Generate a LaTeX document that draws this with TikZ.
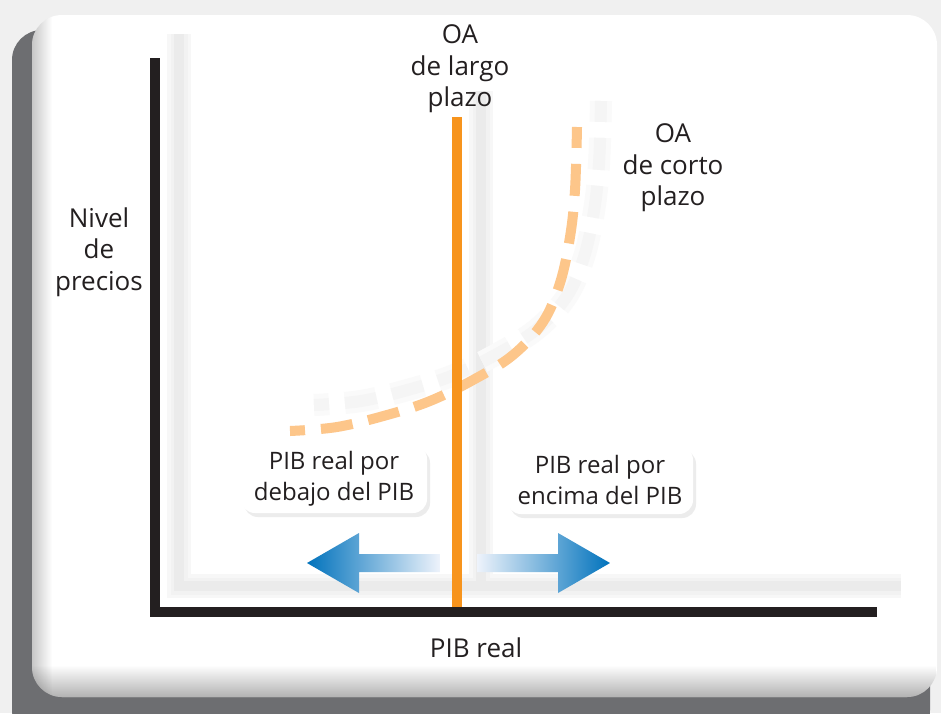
\documentclass[tikz,border=0pt]{standalone}
\usepackage{fontspec}
\setmainfont{Open Sans}
\usetikzlibrary{shadows,fadings}
\definecolor{ink}{HTML}{231F20}
\definecolor{oaorange}{HTML}{F7941D}
\definecolor{oalight}{HTML}{FDC68A}
\definecolor{arrowblue}{HTML}{0072BC}
\definecolor{arrowmid}{HTML}{5B9BD5}
\definecolor{arrowpale}{HTML}{EEF3FB}
\definecolor{panelshadow}{HTML}{6D6E71}
\definecolor{backgray}{HTML}{F0F0F0}

\newcommand{\sracurve}{plot[smooth, tension=0.6] coordinates {(290, 431) (337, 427) (387, 415) (430, 401) (473, 380) (513, 355) (543, 322) (560, 283) (570, 237) (575, 190) (577, 127)}}

\begin{document}
\begin{tikzpicture}[
        x = 1pt, y = -1pt,
        line join=round,
        axis/.style = {line width=10pt, ink, line join=miter},
        lronly/.style = {line width=10pt, oaorange},
        sronly/.style = {line width=10pt, oalight, dash pattern=on 32pt off 16pt, dash phase=17pt},
        label/.style = {font=\fontsize{26}{31.5}\selectfont, text=ink, align=center, inner sep=0pt},
        gdpbox/.style = {label, font=\fontsize{24}{31.5}\selectfont, fill=white, rounded corners=14pt,
            minimum width=186pt, minimum height=68pt,
            drop shadow={shadow xshift=3pt, shadow yshift=-4pt, opacity=.15}}
    ]
        \useasboundingbox (0, 0) rectangle (941, 713);

        % panel
        \fill[backgray] (0, 0) rectangle (941, 713);
        \fill[panelshadow, rounded corners=30pt] (12, 30) rectangle (930, 740);
        \fill[white, rounded corners=30pt] (32, 15) rectangle (937, 697);
        \begin{scope}
            \clip[rounded corners=30pt] (32, 15) rectangle (937, 697);
            \fill[black, opacity=.3, path fading=north] (32, 665) rectangle (937, 697);
            \fill[black, opacity=.22, path fading=east] (32, 15) rectangle (52, 697);
        \end{scope}

        % ghost shadows
        \begin{scope}[shift={(24, -26)}]
            \foreach \w/\c in {24/3, 17/5, 10/8} {
                \draw[line width=\w pt, black!\c, line join=miter] (155, 60) -- (155, 612) -- (877, 612);
                \draw[line width=\w pt, black!\c] (457, 117) -- (457, 608);
            }
            \foreach \w/\c in {22/2, 12/4} {
                \draw[line width=\w pt, black!\c, dash pattern=on 32pt off 16pt, dash phase=17pt] \sracurve;
            }
        \end{scope}

        \coordinate (o) at (155, 612);
        \coordinate (ytop) at (155, 58);
        \coordinate (xend) at (877, 612);
        \coordinate (lrtop) at (457, 117);
        \coordinate (lrbot) at (457, 608);

        \draw[sronly] \sracurve;
        \draw[lronly] (lrtop) -- (lrbot);
        \draw[axis] (ytop) -- (o) -- (xend);

        % arrows
        \shade[left color=arrowblue, middle color=arrowmid, right color=arrowpale]
            (307, 563) -- (359, 533) -- (359, 554) -- (440, 554) -- (440, 572) -- (359, 572) -- (359, 593) -- cycle;
        \shade[left color=arrowpale, middle color=arrowmid, right color=arrowblue]
            (610, 563) -- (558, 533) -- (558, 554) -- (477, 554) -- (477, 572) -- (558, 572) -- (558, 593) -- cycle;

        \node[label] (lrlabel) at (460, 69) {OA\\de largo\\plazo};
        \node[label] (srlabel) at (673, 168) {OA\\de corto\\plazo};
        \node[label] (ylabel) at (99, 252) {Nivel\\de\\precios};
        \node[label] (xlabel) at (476, 648) {PIB real};
        \node[gdpbox] (below) at (334, 479) {PIB real por\\debajo del PIB};
        \node[gdpbox] (above) at (600, 480) {PIB real por\\encima del PIB};

    \end{tikzpicture}
\end{document}
